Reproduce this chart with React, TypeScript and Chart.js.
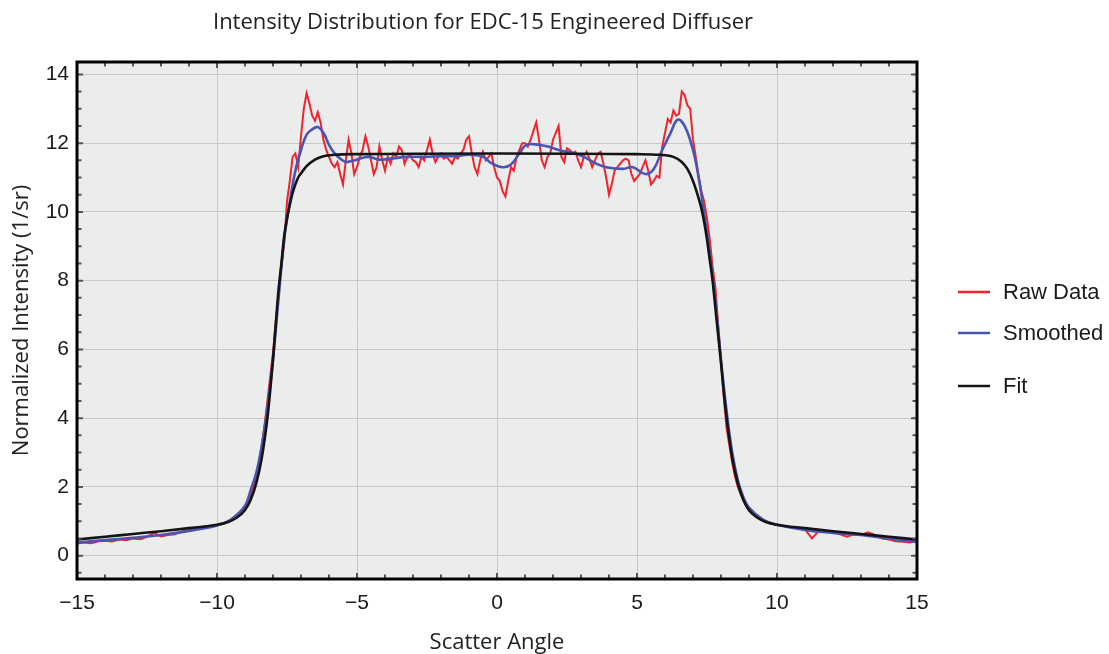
import { useEffect, useRef } from "react";
import { Chart, registerables } from "chart.js";

Chart.register(...registerables);

const chartTitle = "Intensity Distribution for EDC-15 Engineered Diffuser";
const xAxisTitle = "Scatter Angle";
const yAxisTitle = "Normalized Intensity (1/sr)";
const seriesLabels = ["Raw Data", "Smoothed", "Fit"];

const xTickValues = [-15, -10, -5, 0, 5, 10, 15];
const yTickValues = [0, 2, 4, 6, 8, 10, 12, 14];

const rawAngle = [
  -15, -14.75, -14.5, -14.25, -14, -13.75, -13.5, -13.25, -13, -12.75, -12.5, -12.25,
  -12, -11.75, -11.5, -11.25, -11, -10.75, -10.5, -10.25, -10, -9.75, -9.5, -9.25,
  -9, -8.9, -8.8, -8.7, -8.6, -8.5, -8.4, -8.3, -8.2, -8.1,
  -8, -7.9, -7.8, -7.7, -7.6, -7.5, -7.4, -7.3, -7.2, -7.1,
  -7, -6.9, -6.8, -6.7, -6.6, -6.5, -6.4, -6.3, -6.2, -6.1,
  -6, -5.9, -5.8, -5.7, -5.6, -5.5, -5.4, -5.3, -5.2, -5.1,
  -5, -4.9, -4.8, -4.7, -4.6, -4.5, -4.4, -4.3, -4.2, -4.1,
  -4, -3.9, -3.8, -3.7, -3.6, -3.5, -3.4, -3.3, -3.2, -3.1,
  -3, -2.9, -2.8, -2.7, -2.6, -2.5, -2.4, -2.3, -2.2, -2.1,
  -2, -1.9, -1.8, -1.7, -1.6, -1.5, -1.4, -1.3, -1.2, -1.1,
  -1, -0.9, -0.8, -0.7, -0.6, -0.5, -0.4, -0.3, -0.2, -0.1,
  0, 0.1, 0.2, 0.3, 0.4, 0.5, 0.6, 0.7, 0.8, 0.9,
  1, 1.1, 1.2, 1.3, 1.4, 1.5, 1.6, 1.7, 1.8, 1.9,
  2, 2.1, 2.2, 2.3, 2.4, 2.5, 2.6, 2.7, 2.8, 2.9,
  3, 3.1, 3.2, 3.3, 3.4, 3.5, 3.6, 3.7, 3.8, 3.9,
  4, 4.1, 4.2, 4.3, 4.4, 4.5, 4.6, 4.7, 4.8, 4.9,
  5, 5.1, 5.2, 5.3, 5.4, 5.5, 5.6, 5.7, 5.8, 5.9,
  6, 6.1, 6.2, 6.3, 6.4, 6.5, 6.6, 6.7, 6.8, 6.9,
  7, 7.1, 7.2, 7.3, 7.4, 7.5, 7.6, 7.7, 7.8, 7.9,
  8, 8.1, 8.2, 8.3, 8.4, 8.5, 8.6, 8.7, 8.8, 8.9, 9,
  9.25, 9.5, 9.75, 10, 10.25, 10.5, 10.75, 11, 11.25, 11.5, 11.75, 12,
  12.25, 12.5, 12.75, 13, 13.25, 13.5, 13.75, 14, 14.25, 14.5, 14.75, 15,
];

const rawIntensity = [
  0.35, 0.38, 0.36, 0.42, 0.43, 0.41, 0.47, 0.45, 0.5, 0.48, 0.55, 0.66,
  0.56, 0.6, 0.62, 0.7, 0.73, 0.8, 0.85, 0.86, 0.88, 0.93, 1.05, 1.22,
  1.4, 1.55, 1.75, 2.0, 2.3, 2.7, 3.2, 3.8, 4.5, 5.2,
  5.9, 6.8, 7.6, 8.4, 9.1, 10.3, 10.9, 11.6, 11.7, 11.3,
  12.2, 13.0, 13.45, 13.15, 12.8, 12.65, 12.9, 12.6, 12.1, 11.8,
  11.6, 11.4, 11.3, 11.45, 11.1, 10.8, 11.5, 12.1, 11.7, 11.1,
  11.3, 11.6, 11.8, 12.2, 11.9, 11.5, 11.1, 11.3, 11.9, 11.5,
  11.2, 11.6, 11.4, 11.7, 11.6, 11.9, 11.8, 11.4, 11.6, 11.65,
  11.5, 11.45, 11.3, 11.6, 11.5, 11.8, 12.1, 11.7, 11.45, 11.6,
  11.7, 11.55, 11.6, 11.5, 11.4, 11.6, 11.55, 11.7, 11.8, 12.1,
  12.2, 11.7, 11.3, 11.1, 11.5, 11.75, 11.5, 11.6, 11.7, 11.3,
  11.0, 10.9, 10.6, 10.45, 10.9, 11.3, 11.2, 11.6, 11.8, 12.0,
  12.0, 11.9, 12.1, 12.35, 12.6, 12.1, 11.5, 11.3, 11.6, 11.7,
  12.1, 12.3, 12.5, 11.6, 11.45, 11.85, 11.8, 11.7, 11.75, 11.5,
  11.3, 11.6, 11.75, 11.55, 11.3, 11.5, 11.7, 11.75, 11.4, 11.0,
  10.5, 10.8, 11.2, 11.3, 11.4, 11.5, 11.55, 11.5, 11.1, 10.9,
  11.0, 11.1, 11.3, 11.5, 11.2, 10.8, 10.9, 11.05, 11.0, 11.9,
  12.3, 12.7, 12.6, 12.95, 12.8, 12.85, 13.5, 13.4, 13.1, 13.0,
  12.1, 11.6, 11.05, 10.6, 10.3, 9.8, 9.2, 8.4, 7.8, 6.7,
  5.7, 4.6, 3.7, 3.2, 2.7, 2.3, 2.0, 1.8, 1.6, 1.45, 1.3,
  1.15, 1.02, 0.95, 0.88, 0.86, 0.82, 0.8, 0.76, 0.5, 0.72, 0.7, 0.68,
  0.62, 0.55, 0.62, 0.6, 0.68, 0.6, 0.5, 0.47, 0.42, 0.4, 0.38, 0.42,
];

const smoothAngle = [
  -15, -14, -13, -12, -11, -10, -9.5, -9, -8.8, -8.6, -8.4, -8.2, -8, -7.8, -7.6, -7.4,
  -7.2, -7, -6.8, -6.6, -6.4, -6.2, -6, -5.8, -5.6, -5.4, -5.2, -5, -4.6, -4.2, -3.8,
  -3.2, -2.6, -2, -1.5, -1, -0.5, -0.2, 0.2, 0.5, 0.8, 1.05, 1.5, 1.9, 2.3, 2.7, 3.1,
  3.5, 3.9, 4.5, 4.85, 5.3, 5.6, 5.9, 6.2, 6.45, 6.7, 7, 7.2, 7.4, 7.6, 7.8, 8, 8.2,
  8.4, 8.6, 8.8, 9, 9.5, 10, 11, 12, 13, 14, 15,
];

const smoothIntensity = [
  0.38, 0.45, 0.52, 0.6, 0.72, 0.88, 1.05, 1.45, 1.9, 2.4, 3.2, 4.3, 5.7, 7.5, 9.2, 10.3,
  11.2, 11.8, 12.25, 12.4, 12.47, 12.3, 11.95, 11.7, 11.55, 11.45, 11.48, 11.52, 11.6, 11.52, 11.55,
  11.6, 11.6, 11.62, 11.62, 11.66, 11.6, 11.42, 11.3, 11.38, 11.7, 11.95, 11.95, 11.88, 11.78, 11.72, 11.6,
  11.42, 11.3, 11.25, 11.3, 11.1, 11.25, 11.8, 12.3, 12.68, 12.5, 11.8, 11.0, 9.95, 8.8, 7.4, 5.7, 4.2,
  3.0, 2.2, 1.7, 1.4, 1.05, 0.9, 0.75, 0.66, 0.6, 0.5, 0.4,
];

const fitAngle = [
  -15, -14, -13, -12, -11, -10, -9.6, -9.3, -9, -8.8, -8.6, -8.4, -8.2, -8.1, -8, -7.9,
  -7.8, -7.7, -7.6, -7.5, -7.4, -7.3, -7.2, -7.1, -7, -6.8, -6.5, -6.2, -5.8, -5, 0,
  5, 5.8, 6.3, 6.6, 6.8, 7, 7.2, 7.3, 7.4, 7.5, 7.6, 7.7, 7.8, 7.9, 8, 8.1, 8.2, 8.4,
  8.6, 8.8, 9, 9.3, 9.6, 10, 11, 12, 13, 14, 15,
];

const fitIntensity = [
  0.47, 0.55, 0.63, 0.71, 0.8, 0.9, 0.98, 1.1, 1.33, 1.62, 2.1, 2.85, 4.0, 4.8, 5.7, 6.75,
  7.75, 8.5, 9.3, 9.8, 10.2, 10.55, 10.8, 11.0, 11.12, 11.33, 11.52, 11.62, 11.66, 11.68, 11.7,
  11.68, 11.66, 11.6, 11.45, 11.25, 10.9, 10.4, 10.1, 9.7, 9.2, 8.6, 8.0, 7.2, 6.4, 5.6, 4.75, 4.0, 2.85,
  2.1, 1.62, 1.33, 1.1, 0.98, 0.9, 0.8, 0.71, 0.63, 0.55, 0.47,
];

const seriesColors = ["#f0232d", "#4a54b3", "#141414"];

const toPoints = (xs: number[], ys: number[]) => xs.map((x, i) => ({ x, y: ys[i] }));
const fmtTick = (v: number) => (v < 0 ? "\u2212" + Math.abs(v) : String(v));

const decorPlugin = {
  id: "decor",
  beforeDraw(chart: any) {
    const { ctx, chartArea: a } = chart;
    ctx.save();
    ctx.fillStyle = "#ebecec";
    ctx.fillRect(a.left, a.top, a.right - a.left, a.bottom - a.top);
    ctx.restore();
  },
  afterDraw(chart: any) {
    const { ctx, chartArea: a, scales } = chart;
    const xs = scales.x;
    const ys = scales.y;
    ctx.save();
    ctx.strokeStyle = "#555";
    ctx.lineWidth = 2;
    const xMinor: number[] = [];
    for (let v = -14; v <= 14; v++) xMinor.push(v);
    const yMinor: number[] = [];
    for (let v = -0.5; v <= 14; v += 0.5) yMinor.push(v);
    ctx.beginPath();
    xMinor.forEach((v) => {
      const len = xTickValues.includes(v) ? 6 : 4.5;
      const px = xs.getPixelForValue(v);
      ctx.moveTo(px, a.bottom);
      ctx.lineTo(px, a.bottom - len);
      ctx.moveTo(px, a.top);
      ctx.lineTo(px, a.top + len);
    });
    yMinor.forEach((v) => {
      const len = yTickValues.includes(v) ? 6 : 4.5;
      const py = ys.getPixelForValue(v);
      ctx.moveTo(a.left, py);
      ctx.lineTo(a.left + len, py);
      ctx.moveTo(a.right, py);
      ctx.lineTo(a.right - len, py);
    });
    ctx.stroke();
    ctx.strokeStyle = "#000";
    ctx.lineWidth = 3;
    ctx.strokeRect(a.left, a.top, a.right - a.left, a.bottom - a.top);
    ctx.fillStyle = "#222";
    ctx.font = '22px "Open Sans"';
    ctx.textAlign = "center";
    ctx.textBaseline = "middle";
    ctx.fillText(chartTitle, 483, 23);
    const legendY = [292, 333, 386];
    ctx.font = '22px "Liberation Sans", Arial, sans-serif';
    ctx.textAlign = "left";
    chart.data.datasets.forEach((ds: any, i: number) => {
      const y = legendY[i];
      ctx.strokeStyle = ds.borderColor;
      ctx.lineWidth = 2.5;
      ctx.beginPath();
      ctx.moveTo(958, y);
      ctx.lineTo(990, y);
      ctx.stroke();
      ctx.fillStyle = "#1a1a1a";
      ctx.fillText(ds.label, 1003, y + 1);
    });
    ctx.restore();
  },
};

export default function App() {
  const canvasRef = useRef<HTMLCanvasElement | null>(null);

  useEffect(() => {
    if (!canvasRef.current) return;
    const tickFont = { family: '"Liberation Sans", Arial, sans-serif', size: 21 };
    const chart = new Chart(canvasRef.current, {
      type: "line",
      data: {
        datasets: [
          {
            label: seriesLabels[0],
            data: toPoints(rawAngle, rawIntensity),
            borderColor: seriesColors[0],
            borderWidth: 2,
            tension: 0,
            pointRadius: 0,
            order: 3,
          },
          {
            label: seriesLabels[1],
            data: toPoints(smoothAngle, smoothIntensity),
            borderColor: seriesColors[1],
            borderWidth: 2.6,
            tension: 0.4,
            pointRadius: 0,
            order: 2,
          },
          {
            label: seriesLabels[2],
            data: toPoints(fitAngle, fitIntensity),
            borderColor: seriesColors[2],
            borderWidth: 2.6,
            cubicInterpolationMode: "monotone",
            pointRadius: 0,
            order: 1,
          },
        ],
      },
      options: {
        animation: false,
        responsive: false,
        events: [],
        layout: { padding: { left: 0, top: 62, right: 192, bottom: 0 } },
        plugins: {
          legend: { display: false },
          tooltip: { enabled: false },
          title: { display: false },
        },
        scales: {
          x: {
            type: "linear",
            min: -15,
            max: 15,
            afterBuildTicks: (s: any) => {
              s.ticks = xTickValues.map((v) => ({ value: v }));
            },
            afterFit: (s: any) => {
              s.height = 75;
            },
            grid: { color: "#c8c8c8", lineWidth: 1, drawTicks: false },
            border: { display: false },
            ticks: {
              padding: 12,
              font: tickFont,
              color: "#1a1a1a",
              maxRotation: 0,
              autoSkip: false,
              callback: (v: any) => fmtTick(Number(v)),
            },
            title: {
              display: true,
              text: xAxisTitle,
              color: "#222",
              font: { family: '"Open Sans"', size: 22, lineHeight: 1.0 },
              padding: { top: 0, bottom: 0 },
            },
          },
          y: {
            type: "linear",
            min: -0.68,
            max: 14.36,
            afterBuildTicks: (s: any) => {
              s.ticks = yTickValues.map((v) => ({ value: v }));
            },
            afterFit: (s: any) => {
              s.width = 77;
            },
            grid: { color: "#c8c8c8", lineWidth: 1, drawTicks: false },
            border: { display: false },
            ticks: {
              padding: 8,
              font: tickFont,
              color: "#1a1a1a",
              autoSkip: false,
              callback: (v: any) => fmtTick(Number(v)),
            },
            title: {
              display: true,
              text: yAxisTitle,
              color: "#222",
              font: { family: '"Open Sans"', size: 22, lineHeight: 1.0 },
              padding: { top: 11, bottom: 0 },
            },
          },
        },
      },
      plugins: [decorPlugin],
    } as any);
    return () => chart.destroy();
  }, []);

  return (
    <div style={{ position: "absolute", left: 0, top: 0, width: 1109, height: 654, background: "#fff" }}>
      <canvas ref={canvasRef} width={1109} height={654} />
    </div>
  );
}
